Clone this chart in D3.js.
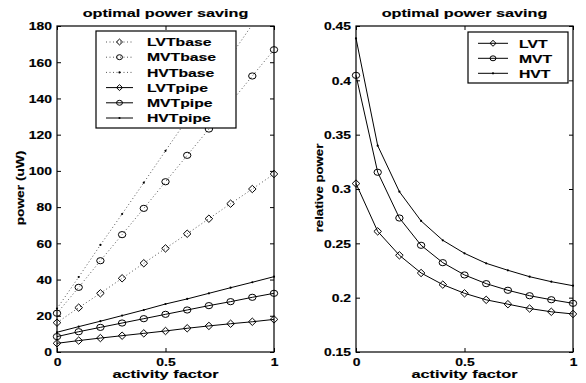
<!DOCTYPE html>
<html><head><meta charset="utf-8">
<script src="https://cdn.jsdelivr.net/npm/d3@7"></script>
<style>body{margin:0;background:#fff}svg{display:block}</style>
</head><body>
<script>
const xVals = [0,0.1,0.2,0.3,0.4,0.5,0.6,0.7,0.8,0.9,1.0];
const lvtBase = [16.2,24.5,32.4,40.7,49.0,57.2,65.3,73.6,81.9,90.0,98.3];
const mvtBase = [21.4,35.7,50.4,64.8,79.3,94.0,108.6,123.1,137.7,152.4,166.9];
const hvtBase = [24.0,41.4,59.1,76.2,93.5,111.1,128.5,146.0,163.4,180.8,198.2];
const lvtPipe = [4.8,6.3,7.7,9.0,10.3,11.6,13.1,14.4,15.6,16.7,18.0];
const mvtPipe = [8.5,11.2,13.6,16.0,18.4,20.8,23.2,25.6,27.8,30.2,32.4];
const hvtPipe = [10.9,14.0,17.0,20.1,23.2,26.5,29.3,32.4,35.5,38.5,41.6];
const lvtRel = [0.305,0.261,0.239,0.2227,0.212,0.204,0.198,0.194,0.190,0.187,0.185];
const mvtRel = [0.4046,0.3154,0.2733,0.2482,0.2322,0.2209,0.2129,0.2068,0.2018,0.1981,0.1948];
const hvtRel = [0.4387,0.3399,0.2975,0.2706,0.2528,0.2408,0.2316,0.2252,0.2193,0.2147,0.211];
const leftNames = ["LVTbase","MVTbase","HVTbase","LVTpipe","MVTpipe","HVTpipe"];
const rightNames = ["LVT","MVT","HVT"];
const xTicks = [0,0.5,1];
const leftYTicks = [0,20,40,60,80,100,120,140,160,180];
const rightYTicks = [0.15,0.2,0.25,0.3,0.35,0.4,0.45];
const titleText = "optimal power saving";
const xLabel = "activity factor";
const leftYLabel = "power (uW)";
const rightYLabel = "relative power";

const W = 586, H = 383;
const FONT = "'Liberation Sans', Arial, Helvetica, sans-serif";
const svg = d3.select("body").append("svg").attr("width", W).attr("height", H);

function stretchText(g, x, y, str, size, sx, anchor, rot) {
  return g.append("text")
    .attr("transform", `translate(${x},${y})` + (rot ? ` rotate(${rot})` : "") + ` scale(${sx},1)`)
    .attr("text-anchor", anchor)
    .attr("font-family", FONT).attr("font-weight", "bold")
    .attr("font-size", size).attr("fill", "#000")
    .attr("stroke", "#000").attr("stroke-width", 0.15)
    .text(str);
}

function marker(g, type, x, y, k) {
  k = k || 1;
  if (type === "diamond") {
    g.append("path").attr("d", `M${x},${y-3.7*k}L${x+3.8*k},${y}L${x},${y+3.7*k}L${x-3.8*k},${y}Z`)
      .attr("fill", "none").attr("stroke", "#000").attr("stroke-width", 1);
  } else if (type === "circle") {
    g.append("ellipse").attr("cx", x).attr("cy", y).attr("rx", 3.7*k).attr("ry", 3.1*k)
      .attr("fill", "none").attr("stroke", "#000").attr("stroke-width", 1);
  } else {
    g.append("circle").attr("cx", x).attr("cy", y).attr("r", 1.1).attr("fill", "#000");
  }
}

function panel(cfg) {
  const x = d3.scaleLinear().domain([0,1]).range([cfg.x0, cfg.x1]);
  const y = d3.scaleLinear().domain(cfg.ydom).range([352, 26]);
  const g = svg.append("g");
  const clipId = "clip" + cfg.id;
  svg.append("clipPath").attr("id", clipId).append("rect")
    .attr("x", cfg.x0 - 5).attr("y", 26).attr("width", cfg.x1 - cfg.x0 + 10).attr("height", 326);

  const tickStyle = sel => {
    sel.select(".domain").remove();
    sel.selectAll("line").attr("stroke", "#000");
  };
  const ax = g.append("g").attr("transform", `translate(0,352)`)
    .call(d3.axisBottom(x).tickValues(xTicks).tickSizeInner(-4).tickSizeOuter(0).tickFormat(d3.format("")));
  tickStyle(ax);
  ax.selectAll("text").each(function(d){
    d3.select(this).attr("y", null).attr("dy", null)
      .attr("transform", `translate(0,14) scale(1.35,1)`)
      .attr("font-family", FONT).attr("font-weight", "bold").attr("font-size", 10.3)
      .attr("stroke", "#000").attr("stroke-width", 0.15);
  });
  const axTop = g.append("g").attr("transform", `translate(0,26)`)
    .call(d3.axisTop(x).tickValues(xTicks).tickSizeInner(-4).tickSizeOuter(0).tickFormat(""));
  tickStyle(axTop);
  const ay = g.append("g").attr("transform", `translate(${cfg.x0},0)`)
    .call(d3.axisLeft(y).tickValues(cfg.yticks).tickSizeInner(-4).tickSizeOuter(0).tickFormat(d => String(d)));
  tickStyle(ay);
  ay.selectAll("text").each(function(){
    d3.select(this).attr("x", null).attr("dy", null)
      .attr("transform", `translate(-5,3.8) scale(1.35,1)`)
      .attr("text-anchor", "end")
      .attr("font-family", FONT).attr("font-weight", "bold").attr("font-size", 10.3)
      .attr("stroke", "#000").attr("stroke-width", 0.15);
  });
  const ayR = g.append("g").attr("transform", `translate(${cfg.x1},0)`)
    .call(d3.axisRight(y).tickValues(cfg.yticks).tickSizeInner(-4).tickSizeOuter(0).tickFormat(""));
  tickStyle(ayR);
  g.append("rect").attr("x", cfg.x0).attr("y", 26).attr("width", cfg.x1 - cfg.x0).attr("height", 326)
    .attr("fill", "none").attr("stroke", "#000").attr("stroke-width", 1.2);

  const plot = g.append("g").attr("clip-path", `url(#${clipId})`);
  const line = d3.line().x((d,i) => x(xVals[i])).y(d => y(d));
  cfg.series.forEach(s => {
    plot.append("path").attr("d", line(s.values)).attr("fill", "none")
      .attr("stroke", s.dotted ? "#555" : "#000").attr("stroke-width", 1)
      .attr("stroke-dasharray", s.dotted ? "1,2.5" : null);
    s.values.forEach((v,i) => marker(plot, s.marker, x(xVals[i]), y(v)));
  });

  stretchText(g, (cfg.x0 + cfg.x1)/2, 16.5, titleText, 11.5, 1.41, "middle");
  stretchText(g, (cfg.x0 + cfg.x1)/2, 378, xLabel, 11.5, 1.42, "middle");
  stretchText(g, cfg.ylabX, 188, cfg.ylabel, 11, cfg.ylabSx, "middle", -90);

  const lg = g.append("g");
  lg.append("rect").attr("x", cfg.leg.x).attr("y", cfg.leg.y).attr("width", cfg.leg.w).attr("height", cfg.leg.h)
    .attr("fill", "#fff").attr("stroke", "#000").attr("stroke-width", 1.2);
  cfg.series.forEach((s, i) => {
    const ry = cfg.leg.y + cfg.leg.first + i * cfg.leg.step;
    lg.append("line").attr("x1", cfg.leg.l0).attr("x2", cfg.leg.l1).attr("y1", ry).attr("y2", ry)
      .attr("stroke", s.dotted ? "#555" : "#000").attr("stroke-width", 1)
      .attr("stroke-dasharray", s.dotted ? "1,2.5" : null);
    marker(lg, s.marker, (cfg.leg.l0 + cfg.leg.l1)/2, ry, 0.8);
    stretchText(lg, cfg.leg.tx, ry + 4.2, s.name, 11.5, 1.37, "start");
  });
}

panel({
  id: "L", x0: 57, x1: 274, ydom: [0,180], yticks: leftYTicks,
  ylabel: leftYLabel, ylabX: 24, ylabSx: 1.25,
  series: [
    {name: leftNames[0], values: lvtBase, marker: "diamond", dotted: true},
    {name: leftNames[1], values: mvtBase, marker: "circle", dotted: true},
    {name: leftNames[2], values: hvtBase, marker: "dot", dotted: true},
    {name: leftNames[3], values: lvtPipe, marker: "diamond", dotted: false},
    {name: leftNames[4], values: mvtPipe, marker: "circle", dotted: false},
    {name: leftNames[5], values: hvtPipe, marker: "dot", dotted: false}
  ],
  leg: {x: 96, y: 31, w: 140, h: 97, first: 11, step: 15.2, l0: 106, l1: 133, tx: 147}
});

panel({
  id: "R", x0: 356, x1: 573, ydom: [0.15,0.45], yticks: rightYTicks,
  ylabel: rightYLabel, ylabX: 323, ylabSx: 1.2,
  series: [
    {name: rightNames[0], values: lvtRel, marker: "diamond", dotted: false},
    {name: rightNames[1], values: mvtRel, marker: "circle", dotted: false},
    {name: rightNames[2], values: hvtRel, marker: "dot", dotted: false}
  ],
  leg: {x: 468, y: 32, w: 100, h: 51, first: 11.3, step: 15, l0: 478, l1: 508, tx: 519}
});
</script>
</body></html>
